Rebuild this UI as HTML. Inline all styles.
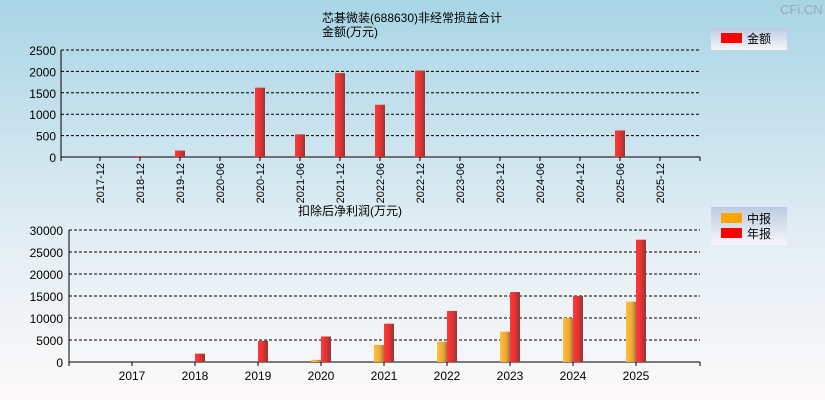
<!DOCTYPE html>
<html><head><meta charset="utf-8"><style>
body{margin:0;width:825px;height:400px;overflow:hidden;font-family:"Liberation Sans","Noto Sans CJK SC",sans-serif;}
svg{display:block}
text{font-family:"Liberation Sans","Noto Sans CJK SC",sans-serif;fill:#000}
</style></head><body>
<svg id="c" width="825" height="400">
<defs>
<linearGradient id="bg" x1="0" y1="0" x2="0" y2="1"><stop offset="0" stop-color="#a9d5e5"/><stop offset="0.6" stop-color="#e3eef4"/><stop offset="1" stop-color="#fdf9f9"/></linearGradient>
<linearGradient id="red" x1="0" y1="0" x2="1" y2="0"><stop offset="0" stop-color="#ff3a3a"/><stop offset="0.5" stop-color="#e83030"/><stop offset="1" stop-color="#8a3a3a"/></linearGradient>
<linearGradient id="org" x1="0" y1="0" x2="1" y2="0"><stop offset="0" stop-color="#ffc040"/><stop offset="0.6" stop-color="#f0a830"/><stop offset="1" stop-color="#a07840"/></linearGradient>
<linearGradient id="lg" x1="0" y1="0" x2="0" y2="1"><stop offset="0" stop-color="#bccbe2"/><stop offset="1" stop-color="#f6f6fa"/></linearGradient>
</defs>
<rect width="825" height="400" fill="url(#bg)"/>
<text x="780" y="14" font-size="13" fill="#aab" style="fill:#9aa8b4">CFi.CN</text>
<text x="412" y="22" font-size="12" text-anchor="middle">芯碁微装(688630)非经常损益合计</text>
<text x="350" y="36" font-size="12" text-anchor="middle">金额(万元)</text>
<text x="350" y="215" font-size="12" text-anchor="middle">扣除后净利润(万元)</text>
<g><rect x="711" y="28" width="76" height="22" fill="url(#lg)"/><rect x="721" y="33" width="21" height="10" fill="#f00"/><text x="747" y="43" font-size="12">金额</text></g>
<g><rect x="711" y="207" width="76" height="38" fill="url(#lg)"/><rect x="721" y="213" width="21" height="10" fill="#ffa500"/><text x="747" y="223" font-size="12">中报</text><rect x="721" y="228" width="21" height="10" fill="#f00"/><text x="747" y="238" font-size="12">年报</text></g>
<g id="top"></g><g id="bot"></g>
</svg>
<script>
const topCats=["2017-12","2018-12","2019-12","2020-06","2020-12","2021-06","2021-12","2022-06","2022-12","2023-06","2023-12","2024-06","2024-12","2025-06","2025-12"];
const topVals=[0,20,150,0,1620,530,1960,1220,2020,0,0,0,0,620,0];
const topTicks=[0,500,1000,1500,2000,2500];
const botYears=["2017","2018","2019","2020","2021","2022","2023","2024","2025"];
const midVals=[0,0,0,500,3900,4600,6900,10000,13700];
const annVals=[0,1900,4800,5800,8700,11600,15900,15000,27800];
const botTicks=[0,5000,10000,15000,20000,25000,30000];
const NS="http://www.w3.org/2000/svg";
function mk(p,t,a){const e=document.createElementNS(NS,t);for(const k in a)e.setAttribute(k,a[k]);p.appendChild(e);return e;}
// top chart
const T=document.getElementById('top');
const ty=v=>157-v/2500*107, tx=i=>100+i*40;
topTicks.forEach(v=>{
 if(v>0){const l=mk(T,'line',{x1:61,x2:700,y1:ty(v),y2:ty(v),stroke:'#000','stroke-dasharray':'3,2'});
 
 }
 const t=mk(T,'text',{x:56,y:ty(v)+5,'font-size':12,'text-anchor':'end'});t.textContent=v;
 
 
});
mk(T,'line',{x1:61,x2:61,y1:50,y2:161,stroke:'#000'});
mk(T,'line',{x1:61,x2:700,y1:157,y2:157,stroke:'#000'});
topCats.forEach((c,i)=>{
 mk(T,'line',{x1:tx(i),x2:tx(i),y1:157,y2:161,stroke:'#000'});
 const t=mk(T,'text',{x:0,y:0,'font-size':11,'text-anchor':'end',transform:`translate(${tx(i)+4},163) rotate(-90)`});t.textContent=c;
 
 
 if(topVals[i]>0){const b=mk(T,'rect',{x:tx(i)-5,y:ty(topVals[i]),width:10,height:157-ty(topVals[i]),fill:'url(#red)'});
 
 }
});
mk(T,'line',{x1:700,x2:700,y1:157,y2:161,stroke:'#000'});
// bottom chart
const B=document.getElementById('bot');
const by=v=>362-v/30000*132, bx=i=>132+i*63;
botTicks.forEach(v=>{
 if(v>0){const l=mk(B,'line',{x1:69,x2:700,y1:by(v),y2:by(v),stroke:'#000','stroke-dasharray':'3,2'});
 
 }
 const t=mk(B,'text',{x:63,y:by(v)+5,'font-size':12,'text-anchor':'end'});t.textContent=v;
 
 
});
mk(B,'line',{x1:69,x2:69,y1:230,y2:366,stroke:'#000'});
mk(B,'line',{x1:69,x2:700,y1:362,y2:362,stroke:'#000'});
mk(B,'line',{x1:700,x2:700,y1:362,y2:366,stroke:'#000'});
botYears.forEach((y,i)=>{
 mk(B,'line',{x1:bx(i),x2:bx(i),y1:362,y2:366,stroke:'#000'});
 const t=mk(B,'text',{x:bx(i),y:380,'font-size':12,'text-anchor':'middle'});t.textContent=y;
 
 
 if(midVals[i]>0){const b=mk(B,'rect',{x:bx(i)-10,y:by(midVals[i]),width:10,height:362-by(midVals[i]),fill:'url(#org)'});
 
 }
 if(annVals[i]>0){const b=mk(B,'rect',{x:bx(i),y:by(annVals[i]),width:10,height:362-by(annVals[i]),fill:'url(#red)'});
 
 }
});
</script>
</body></html>
